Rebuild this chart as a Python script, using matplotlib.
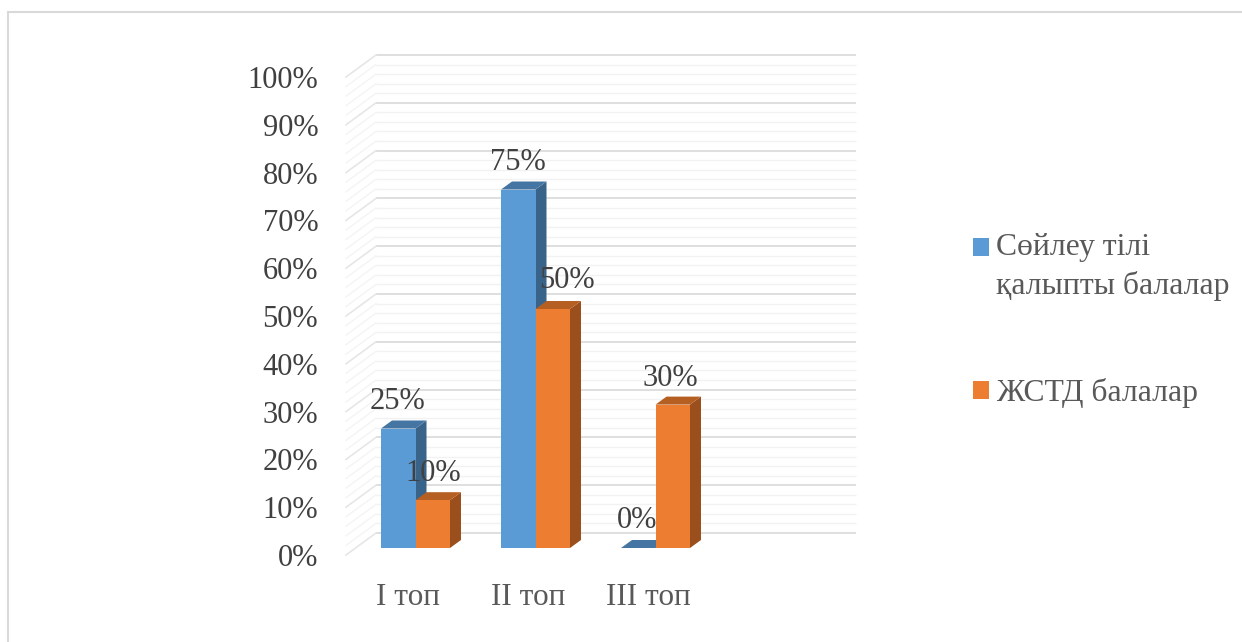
import matplotlib
matplotlib.use("Agg")
import matplotlib.pyplot as plt
from matplotlib.patches import Polygon, Patch
from matplotlib.lines import Line2D
from matplotlib.transforms import ScaledTranslation
import numpy as np

plt.rcParams['font.family'] = ['Liberation Serif', 'DejaVu Serif']

# Chart data
categories = ["I топ", "II топ", "III топ"]
series_names = ["Сөйлеу тілі\nқалыпты балалар", "ЖСТД балалар"]
speech_normal = [25, 75, 0]
speech_disorder = [10, 50, 30]
axis_ticks = list(range(0, 101, 10))
minor_ticks = list(range(0, 101, 2))

# Styling
W, H = 1242, 642
FRONT_L, FRONT_R, FRONT_B, FRONT_T = 346, 826, 555, 77
BLUE = ("#5b9bd5", "#4475a3", "#3a6389")
ORANGE = ("#ed7d31", "#b65f22", "#9a4f1c")
TEXT_DARK = "#404040"
TEXT_MID = "#595959"

fig = plt.figure(figsize=(W / 100, H / 100), dpi=100, facecolor="white")
ax = fig.add_axes([FRONT_L / W, 1 - FRONT_B / H,
                   (FRONT_R - FRONT_L) / W, (FRONT_B - FRONT_T) / H])
ax.set_xlim(0, 4)
ax.set_ylim(0, 100)
ax.patch.set_visible(False)
for s in ax.spines.values():
    s.set_visible(False)

# Pixel-to-data scale factors for the oblique depth offsets
px = 4 / (FRONT_R - FRONT_L)
py = 100 / (FRONT_B - FRONT_T)
WALL_DX, WALL_DY = 30 * px, 22 * py
BAR_DX, BAR_DY = 9.5 * px, 7 * py
DEPTH_DX, DEPTH_DY = 11 * px, 8 * py
BAR_W = 34.5 * px

# Back wall gridlines with their diagonal returns on the side wall
for v in minor_ticks:
    major = v in axis_ticks
    col, lw, z = ("#d9d9d9", 1.2, 1.2) if major else ("#f2f2f2", 1.0, 1)
    ax.plot([WALL_DX, 4 + WALL_DX], [v + WALL_DY] * 2, color=col, lw=lw,
            clip_on=False, zorder=z, solid_capstyle="butt")
    ax.plot([0, WALL_DX], [v, v + WALL_DY], color="#e6e6e6" if major else "#f4f4f4",
            lw=lw, clip_on=False, zorder=z)


def draw_columns(xs, values, colors, zorder):
    # Front faces are ordinary bars; side and top faces are sheared on behind them
    ax.bar(xs, values, width=BAR_W, bottom=BAR_DY, color=colors[0],
           edgecolor="none", zorder=zorder + 0.1, clip_on=False)
    for x, value in zip(xs, values):
        x0, x1 = x - BAR_W / 2, x + BAR_W / 2
        y0, y1 = BAR_DY, value + BAR_DY
        ax.add_patch(Polygon([(x1, y0), (x1 + DEPTH_DX, y0 + DEPTH_DY),
                              (x1 + DEPTH_DX, y1 + DEPTH_DY), (x1, y1)], closed=True,
                             fc=colors[2], ec="none", zorder=zorder, clip_on=False))
        ax.add_patch(Polygon([(x0, y1), (x1, y1), (x1 + DEPTH_DX, y1 + DEPTH_DY),
                              (x0 + DEPTH_DX, y1 + DEPTH_DY)], closed=True,
                             fc=colors[1], ec="none", zorder=zorder, clip_on=False))


centers = np.arange(3) + 0.5 + BAR_DX
xs_normal = centers - BAR_W / 2
xs_disorder = centers + BAR_W / 2
draw_columns(xs_normal, speech_normal, BLUE, 3)
draw_columns(xs_disorder, speech_disorder, ORANGE, 4)

# Value labels, nudged in pixels from the centre of each column's top
normal_nudge = ((-1, 27), (0, 26.5), (-1, 27))
disorder_nudge = ((0, 26.5), (14, 28.5), (-2, 26.5))
for xs, vals, nudges in ((xs_normal, speech_normal, normal_nudge),
                         (xs_disorder, speech_disorder, disorder_nudge)):
    for x, v, (dx, dy) in zip(xs, vals, nudges):
        ax.annotate(f"{v}%", (x, v + BAR_DY), xytext=(dx * 0.72, dy * 0.72),
                    textcoords="offset points", ha="center", va="center",
                    fontsize=22, color=TEXT_DARK, zorder=6, annotation_clip=False)

# Axis labels
ax.set_yticks(axis_ticks, [f"{t}%" for t in axis_ticks])
ax.set_xticks(np.arange(3) + 0.5, categories)
ax.tick_params(axis="y", length=0, pad=20, labelsize=22, labelcolor=TEXT_DARK)
ax.tick_params(axis="x", length=0, pad=20, labelsize=22.5, labelcolor=TEXT_MID)
nudge_right = ScaledTranslation(2 / 100, 0, fig.dpi_scale_trans)
for lab in ax.get_xticklabels():
    lab.set_transform(lab.get_transform() + nudge_right)

# Legend
handles = [Patch(fc=BLUE[0], ec="none"), Patch(fc=ORANGE[0], ec="none")]
leg = fig.legend(handles, series_names, loc="upper left",
                 bbox_to_anchor=(973 / W, 1 - 233 / H), frameon=False,
                 fontsize=22.8, labelcolor=TEXT_MID, handlelength=0.5,
                 handleheight=0.5, handletextpad=0.24, labelspacing=2.43,
                 borderpad=0, borderaxespad=0)
leg.get_texts()[0].set_linespacing(1.4)
# Align the first swatch with the first text line
first = leg.legend_handles[0]
first.set_y(first.get_y() + 20 * 0.72)

# Outer chart frame
frame_col = "#d9d9d9"
fig.add_artist(Line2D([8 / W, 8 / W], [0, 1 - 12 / H], color=frame_col, lw=1.5,
                      transform=fig.transFigure))
fig.add_artist(Line2D([8 / W, 1], [1 - 12 / H, 1 - 12 / H], color=frame_col, lw=1.5,
                      transform=fig.transFigure))

fig.savefig("out.png", dpi=100, facecolor="white")
